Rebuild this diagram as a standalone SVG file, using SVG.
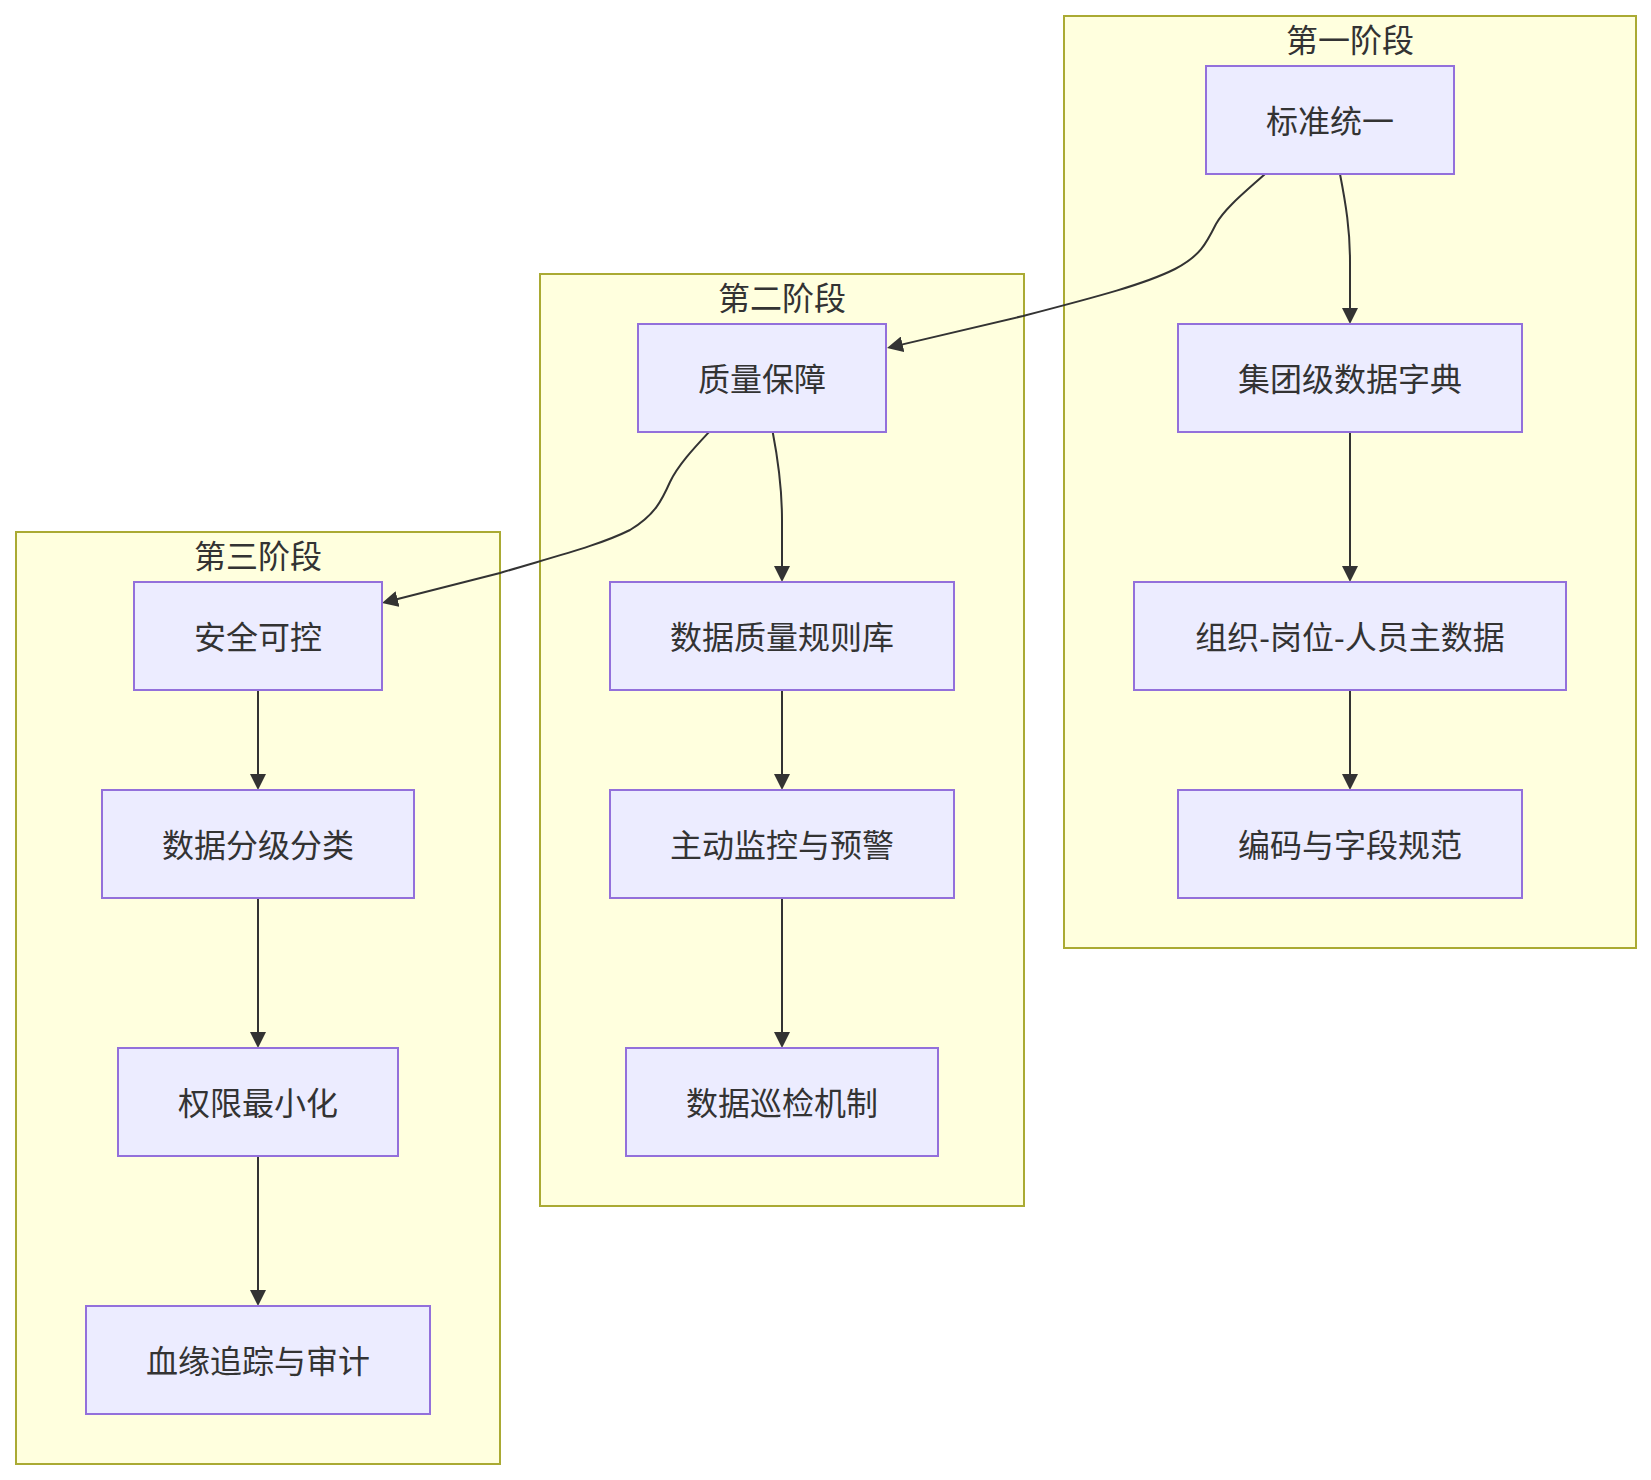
<svg xmlns="http://www.w3.org/2000/svg" width="1651" height="1480" viewBox="0 0 1651 1480">
<style>
.cluster rect{fill:#ffffde;stroke:#aaaa33;stroke-width:2}
.node rect{fill:#ececff;stroke:#9370db;stroke-width:2}
text{font-family:"Liberation Sans","Noto Sans CJK SC",sans-serif;font-size:32px;fill:#333333;text-anchor:middle;dominant-baseline:central}
.edge{fill:none;stroke:#333333;stroke-width:2;marker-end:url(#arrow)}
</style>
<defs>
<marker id="arrow" viewBox="0 0 10 10" refX="7.5" refY="5" markerUnits="userSpaceOnUse" markerWidth="16" markerHeight="16" orient="auto">
<path d="M0,0 L10,5 L0,10 z" fill="#333333"/>
</marker>
</defs>
<rect width="1651" height="1480" fill="#ffffff"/>
<g id="cluster1" class="cluster"><rect x="1064" y="16" width="572" height="932"/><text x="1350" y="40.5">第一阶段</text></g>
<g id="cluster2" class="cluster"><rect x="540" y="274" width="484" height="932"/><text x="782" y="298.5">第二阶段</text></g>
<g id="cluster3" class="cluster"><rect x="16" y="532" width="484" height="932"/><text x="258" y="556.5">第三阶段</text></g>
<g id="connectors">
<path class="edge" d="M1340,174 C1346,205 1350,230 1350,262 L1350,320"/>
<path class="edge" d="M1350,432 L1350,578"/>
<path class="edge" d="M1350,690 L1350,786"/>
<path class="edge" d="M1265,174 C1245,192 1225,208 1216,224 C1206,244 1200,256 1175,269 C1145,284 1100,296 1023,316 L890.9,347.1"/>
<path class="edge" d="M772.7,432 C778.7,463 782,488 782,520 L782,578"/>
<path class="edge" d="M782,690 L782,786"/>
<path class="edge" d="M782,898 L782,1044"/>
<path class="edge" d="M709,432 C695,447 678,465 670,482 C662,500 655,515 630,530 C600,545 560,555 500,573 L385.9,602"/>
<path class="edge" d="M258,690 L258,786"/>
<path class="edge" d="M258,898 L258,1044"/>
<path class="edge" d="M258,1156 L258,1302"/>
</g>
<g id="n1" class="node"><rect x="1206" y="66" width="248" height="108"/><text x="1330" y="121.5">标准统一</text></g>
<g id="n2" class="node"><rect x="1178" y="324" width="344" height="108"/><text x="1350" y="379.5">集团级数据字典</text></g>
<g id="n3" class="node"><rect x="1134" y="582" width="432" height="108"/><text x="1350" y="637.5">组织-岗位-人员主数据</text></g>
<g id="n4" class="node"><rect x="1178" y="790" width="344" height="108"/><text x="1350" y="845.5">编码与字段规范</text></g>
<g id="m1" class="node"><rect x="638" y="324" width="248" height="108"/><text x="762" y="379.5">质量保障</text></g>
<g id="m2" class="node"><rect x="610" y="582" width="344" height="108"/><text x="782" y="637.5">数据质量规则库</text></g>
<g id="m3" class="node"><rect x="610" y="790" width="344" height="108"/><text x="782" y="845.5">主动监控与预警</text></g>
<g id="m4" class="node"><rect x="626" y="1048" width="312" height="108"/><text x="782" y="1103.5">数据巡检机制</text></g>
<g id="s1" class="node"><rect x="134" y="582" width="248" height="108"/><text x="258" y="637.5">安全可控</text></g>
<g id="s2" class="node"><rect x="102" y="790" width="312" height="108"/><text x="258" y="845.5">数据分级分类</text></g>
<g id="s3" class="node"><rect x="118" y="1048" width="280" height="108"/><text x="258" y="1103.5">权限最小化</text></g>
<g id="s4" class="node"><rect x="86" y="1306" width="344" height="108"/><text x="258" y="1361.5">血缘追踪与审计</text></g>
</svg>
